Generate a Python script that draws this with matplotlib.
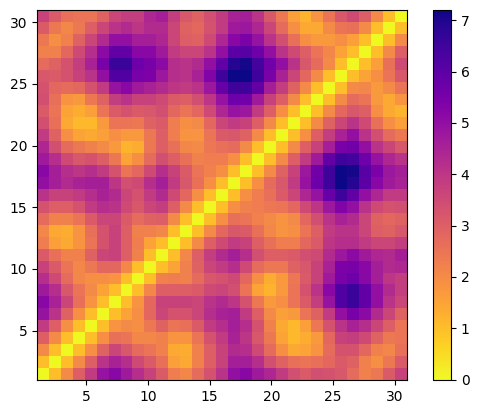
import numpy as np
import matplotlib
matplotlib.use('Agg')
import matplotlib.pyplot as plt

# distance matrix, read from the top row down; each row stops just before the zero diagonal
# the part below the diagonal is the mirror image
upper_rows = [
    [3.7,3.1,2.6,2.5,2.5,2.9,3.6,3.8,3.8,4.4,4.6,3.8,3.2,2.9,3.4,3.9,4.5,4.6,4.1,3.2,2.4,1.6,1.2,1.8,2.5,3.2,3.5,3.0,2.0,1.0],
    [3.1,2.4,2.1,2.4,3.0,3.6,4.1,4.3,4.0,4.3,4.3,3.6,2.9,2.8,3.3,3.9,4.7,4.8,4.4,3.6,2.7,1.9,1.4,1.4,2.0,2.5,2.6,2.0,1.0],
    [2.4,1.9,2.2,2.9,3.6,4.3,5.0,5.0,4.6,4.6,4.4,3.6,3.0,2.9,3.5,4.4,5.2,5.4,4.9,4.1,3.4,2.6,1.9,1.7,1.7,1.9,1.6,1.0],
    [2.2,2.2,2.8,3.5,4.2,5.1,5.9,5.9,5.2,5.2,4.7,3.9,3.6,3.6,4.1,5.0,6.0,6.1,5.7,5.0,4.1,3.5,3.0,2.5,2.1,1.5,1.0],
    [2.7,2.9,3.3,3.8,4.5,5.5,6.6,6.6,5.7,5.5,5.1,4.2,4.1,4.3,5.0,5.9,6.9,7.1,6.4,5.6,5.0,4.1,3.2,2.7,2.0,1.0],
    [3.2,3.1,3.3,3.7,4.1,5.0,6.2,6.2,5.5,5.4,4.8,4.2,4.1,4.5,5.3,6.5,7.2,7.2,6.5,5.5,4.5,3.6,2.8,2.0,1.0],
    [3.3,2.8,2.7,2.8,3.3,3.9,4.9,5.2,4.7,4.5,4.3,4.0,3.9,4.1,4.8,5.8,6.5,6.5,5.9,4.6,3.8,2.9,2.0,1.0],
    [3.4,2.6,1.8,1.7,2.4,2.9,3.8,4.1,3.7,3.7,3.5,3.1,3.0,3.4,4.0,4.9,5.7,5.6,4.7,3.7,3.0,2.0,1.0],
    [3.1,2.5,1.5,1.3,1.6,2.5,3.1,3.3,3.1,3.2,3.4,2.8,2.5,2.8,3.5,4.4,4.9,4.8,3.9,3.0,1.9,1.0],
    [3.4,2.6,1.4,1.1,1.1,1.7,2.5,2.5,2.4,2.9,3.1,2.3,1.9,2.0,2.8,3.6,3.9,3.7,3.0,2.0,1.0],
    [3.9,2.9,1.9,1.5,1.4,1.6,1.9,1.7,1.7,2.4,3.0,2.3,1.8,1.8,2.5,3.1,3.2,2.9,2.0,1.0],
    [4.4,3.4,2.7,2.4,2.2,2.0,1.7,1.2,1.3,2.4,3.0,2.6,2.1,2.0,2.4,2.6,2.7,2.0,1.0],
    [4.7,4.2,3.5,3.2,3.3,3.0,2.4,1.5,1.9,2.7,3.4,3.0,2.6,2.2,2.3,2.3,1.9,1.0],
    [5.2,4.6,4.2,4.0,4.2,3.9,3.3,2.5,2.8,3.5,4.2,3.7,3.1,2.5,2.2,1.9,1.0],
    [5.0,4.6,4.3,4.5,4.6,4.6,4.0,3.4,3.5,4.2,4.6,3.9,3.2,2.6,1.9,1.0],
    [4.1,3.7,3.7,3.9,4.2,4.5,4.3,3.6,3.3,3.9,4.3,3.5,2.8,1.9,1.0],
    [3.3,3.0,3.0,3.3,3.9,4.2,4.1,3.5,3.2,3.6,3.8,3.0,2.0,1.0],
    [2.7,2.2,2.2,2.5,3.1,3.6,3.6,3.1,2.7,2.9,3.0,2.0,1.0],
    [2.1,1.4,1.3,1.8,2.6,3.3,3.7,3.0,2.2,2.2,2.1,1.0],
    [2.3,1.6,1.4,1.8,2.5,3.3,3.7,3.0,2.3,1.5,1.0],
    [3.1,2.6,2.2,2.2,2.9,3.6,3.7,3.0,2.2,1.0],
    [3.7,3.1,2.5,2.1,2.4,2.8,2.8,2.1,1.0],
    [4.2,3.5,2.7,2.1,1.9,1.9,1.8,1.0],
    [4.7,4.2,3.2,2.5,2.0,1.5,1.0],
    [5.2,4.5,3.6,2.6,1.8,1.0],
    [4.9,4.1,2.9,1.9,1.0],
    [3.9,3.0,1.9,1.0],
    [3.0,2.0,1.0],
    [2.0,1.0],
    [1.0],
]

n = len(upper_rows) + 1
dist = np.zeros((n, n))
for r, row in enumerate(upper_rows):
    for c, v in enumerate(row):
        dist[r, c] = v
        dist[n - 1 - c, n - 1 - r] = v

W, H = 478, 413
fig = plt.figure(figsize=(W / 100, H / 100), dpi=100)
ax = fig.add_axes([37 / W, 1 - 380 / H, 370 / W, 370 / H])
cax = fig.add_axes([432.5 / W, 1 - 379.5 / H, 18.5 / W, 369.5 / H])

im = ax.imshow(dist, cmap='plasma_r', extent=[1, 31, 1, 31], interpolation='nearest')
ax.set_xticks([5, 10, 15, 20, 25, 30])
ax.set_yticks([5, 10, 15, 20, 25, 30])
fig.colorbar(im, cax=cax)

fig.savefig('out.png', dpi=100)
